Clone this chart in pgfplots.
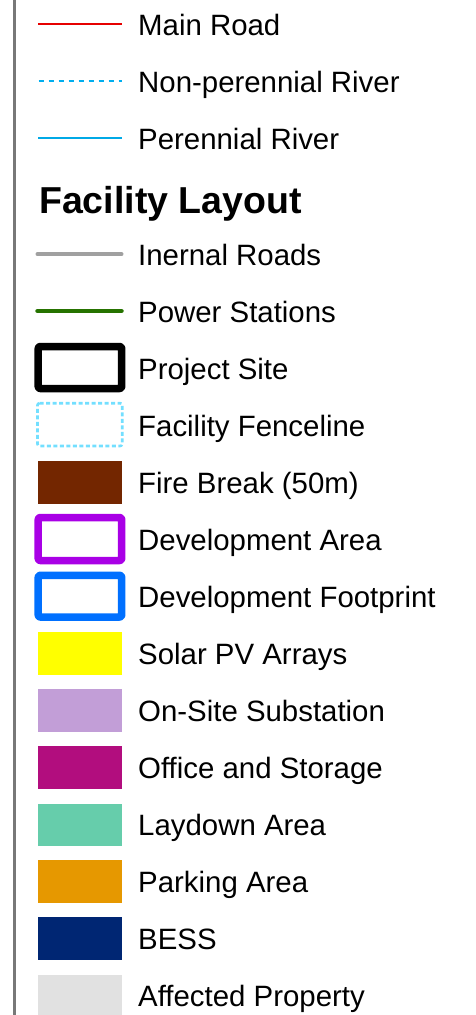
\documentclass[border=0pt]{standalone}
\usepackage{pgfplots}
\pgfplotsset{compat=1.18}
\usepackage{fontspec}
\setmainfont{Liberation Sans}
\definecolor{mainroad}{RGB}{230,0,0}
\definecolor{river}{RGB}{0,169,230}
\definecolor{nriver}{RGB}{0,174,239}
\definecolor{iroad}{RGB}{160,160,160}
\definecolor{power}{RGB}{38,115,0}
\definecolor{fence}{RGB}{115,223,255}
\definecolor{firebreak}{RGB}{115,38,0}
\definecolor{devarea}{RGB}{169,0,230}
\definecolor{devfoot}{RGB}{0,112,255}
\definecolor{solar}{RGB}{255,255,0}
\definecolor{substation}{RGB}{194,158,215}
\definecolor{office}{RGB}{178,13,126}
\definecolor{laydown}{RGB}{102,205,171}
\definecolor{parking}{RGB}{230,152,0}
\definecolor{bess}{RGB}{0,38,115}
\definecolor{affected}{RGB}{225,225,225}
\definecolor{frame}{RGB}{120,120,120}
\begin{document}
\begin{tikzpicture}
\begin{axis}[
  scale only axis, width=475pt, height=1015pt,
  xmin=0, xmax=475, ymin=0, ymax=1015, y dir=reverse,
  hide axis, clip=true,
  every axis plot/.append style={line join=round},
]
% frame line
\addplot[frame, line width=2.7pt] coordinates {(14.8,-5) (14.8,1020)};
% lines
\addplot[mainroad, line width=2pt] coordinates {(38,24) (122,24)};
\addplot[nriver, line width=2.2pt, dash pattern=on 5pt off 5pt] coordinates {(38.5,80.7) (122,80.7)};
\addplot[river, line width=2.2pt] coordinates {(38,137.7) (122,137.7)};
\addplot[iroad, line width=4pt, line cap=round] coordinates {(37.5,254.3) (121.5,254.3)};
\addplot[power, line width=4.5pt, line cap=round] coordinates {(37.5,311) (121.5,311)};
% outlined boxes
\addplot[black, line width=7.5pt, rounded corners=2pt] coordinates {(38.2,346.5) (121.7,346.5) (121.7,388.5) (38.2,388.5)} -- cycle;
\addplot[fence, line width=2.6pt, dash pattern=on 4pt off 2.5pt, rounded corners=2pt] coordinates {(37.5,403.2) (122.2,403.2) (122.2,446) (37.5,446)} -- cycle;
\addplot[devarea, line width=7.5pt, rounded corners=2pt] coordinates {(38.2,517.5) (121.7,517.5) (121.7,560.5) (38.2,560.5)} -- cycle;
\addplot[devfoot, line width=7.5pt, rounded corners=2pt] coordinates {(38.2,575.3) (121.7,575.3) (121.7,617) (38.2,617)} -- cycle;
% filled patches
\addplot[fill=firebreak, draw=none] coordinates {(38,461) (122,461) (122,504) (38,504)} -- cycle;
\addplot[fill=solar, draw=none] coordinates {(38,632) (122,632) (122,675) (38,675)} -- cycle;
\addplot[fill=substation, draw=none] coordinates {(38,689) (122,689) (122,732) (38,732)} -- cycle;
\addplot[fill=office, draw=none] coordinates {(38,746) (122,746) (122,789) (38,789)} -- cycle;
\addplot[fill=laydown, draw=none] coordinates {(38,804) (122,804) (122,846) (38,846)} -- cycle;
\addplot[fill=parking, draw=none] coordinates {(38,860) (122,860) (122,903) (38,903)} -- cycle;
\addplot[fill=bess, draw=none] coordinates {(38,917) (122,917) (122,960) (38,960)} -- cycle;
\addplot[fill=affected, draw=none] coordinates {(38,975) (122,975) (122,1020) (38,1020)} -- cycle;
% labels
\begin{scope}[every node/.style={anchor=base west, inner sep=0pt, font=\fontsize{29.4}{34}\selectfont}]
\node at (axis cs:138,35) {Main Road};
\node at (axis cs:138,92) {Non-perennial River};
\node at (axis cs:138,149) {Perennial River};
\node[font=\fontsize{37.5}{44}\selectfont\bfseries] at (axis cs:39,213) {Facility Layout};
\node at (axis cs:138,265.3) {Inernal Roads};
\node at (axis cs:138,322.2) {Power Stations};
\node at (axis cs:138,379.2) {Project Site};
\node at (axis cs:138,436.2) {Facility Fenceline};
\node at (axis cs:138,493.3) {Fire Break (50m)};
\node at (axis cs:138,550.3) {Development Area};
\node at (axis cs:138,607.3) {Development Footprint};
\node at (axis cs:138,664.3) {Solar PV Arrays};
\node at (axis cs:138,721.3) {On-Site Substation};
\node at (axis cs:138,778.3) {Office and Storage};
\node at (axis cs:138,835.3) {Laydown Area};
\node at (axis cs:138,892.3) {Parking Area};
\node at (axis cs:138,949.3) {BESS};
\node at (axis cs:138,1006.3) {Affected Property};
\end{scope}
\end{axis}
\pgfresetboundingbox
\path (current axis.south west) rectangle (current axis.north east);
\end{tikzpicture}
\end{document}
